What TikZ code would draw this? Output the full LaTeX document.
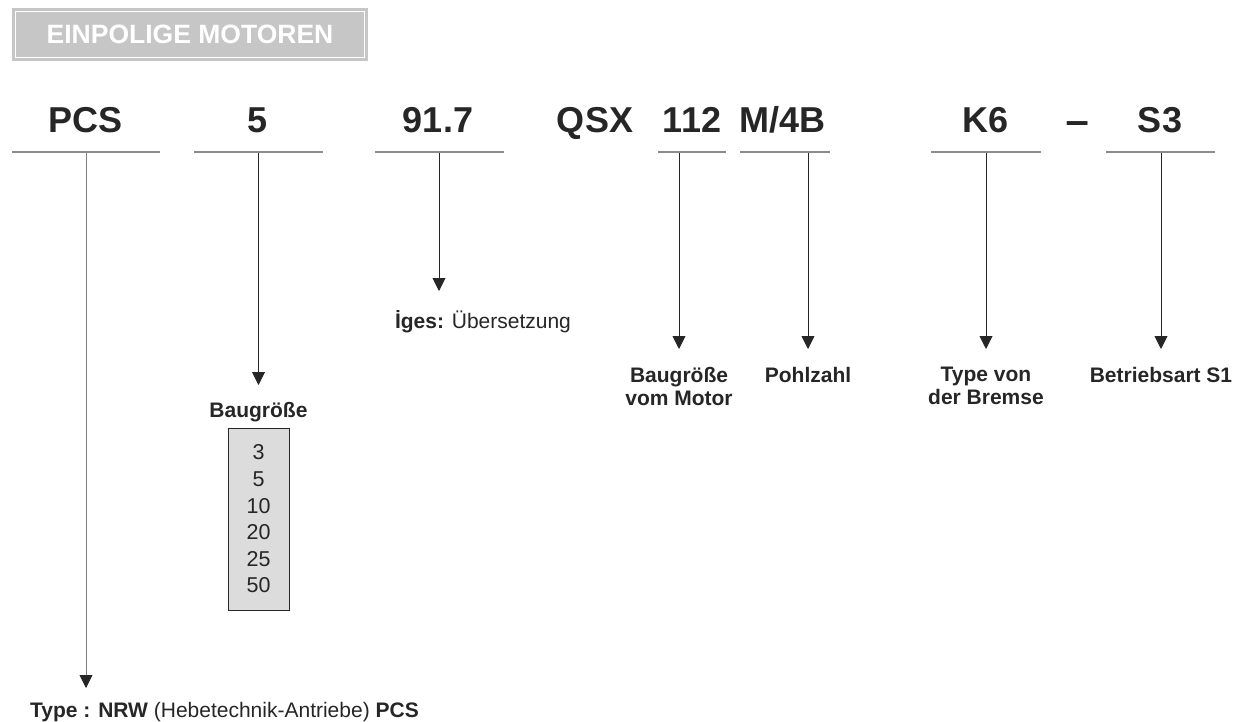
\documentclass[tikz,border=0pt]{standalone}
\usepackage{fontspec}
\setmainfont{Liberation Sans}
\usetikzlibrary{arrows.meta,calc}
\definecolor{tkText}{RGB}{38,38,38}
\definecolor{tkTitle}{RGB}{198,198,198}
\definecolor{tkRule}{RGB}{140,140,140}
\definecolor{tkBox}{RGB}{220,220,220}
\definecolor{tkStem}{RGB}{125,125,125}

\begin{document}
\begin{tikzpicture}[
  x=1pt, y=-1pt,
  code/.style={font=\fontsize{36}{40}\selectfont\bfseries, text=tkText, inner sep=0pt, anchor=base},
  lbl/.style={font=\fontsize{21}{23}\selectfont\bfseries, text=tkText, inner sep=0pt, align=center, anchor=north},
  rule/.style={draw=tkRule, line width=2pt},
  arr/.style={-{Triangle[length=13pt, width=13pt]}, draw=tkText, line width=0.9pt, shorten >=18pt},
]
\useasboundingbox (0,0) rectangle (1242,722);
% title
\node[fill=tkTitle, text=white, font=\fontsize{26.5}{29}\selectfont\bfseries, minimum width=356pt, minimum height=53pt, inner sep=0pt] (title) at (190,34.5) {EINPOLIGE MOTOREN};
\draw[white, line width=1pt] ($(title.south west)+(3.5,-3.5)$) rectangle ($(title.north east)+(-3.5,3.5)$);
% code
\node[code] (pcs) at (85.5,133) {PCS};
\node[code] (size) at (258,133) {5};
\node[code] (ratio) at (438,133) {91.7};
\node[code] (qsx) at (595,133) {QSX};
\node[code] (frame) at (692,133) {112};
\node[code] (pole) at (782.5,133) {M/4B};
\node[code] (brake) at (985.5,133) {K6};
\node[code, xscale=1.15] (dash) at (1077.5,136) {−};
\node[code] (duty) at (1160,133) {S3};
% underlines
\draw[rule] (12,152) -- (160,152);
\draw[rule] (194,152) -- (323,152);
\draw[rule] (375,152) -- (504,152);
\draw[rule] (658,152) -- (726,152);
\draw[rule] (740,152) -- (830,152);
\draw[rule] (931,152) -- (1041,152);
\draw[rule] (1106,152) -- (1215,152);
\coordinate (pcsS) at (86,153);
\coordinate (sizeS) at (258.5,153);
\coordinate (ratioS) at (439,153);
\coordinate (frameS) at (679,153);
\coordinate (poleS) at (808,153);
\coordinate (brakeS) at (986,153);
\coordinate (dutyS) at (1161,153);
% labels
\node[lbl, anchor=north west] (typ) at (30,702) {Type : NRW \mdseries(Hebetechnik-Antriebe) \bfseries PCS};
\node[lbl] (baug) at (258.5,402) {Baugröße};
\node[draw=tkText, line width=0.8pt, fill=tkBox, minimum width=61pt, minimum height=182pt, inner sep=0pt, align=center, text=tkText, font=\fontsize{21.5}{26.6}\selectfont] (sizes) at (258.5,519) {3\\5\\10\\20\\25\\50};
\node[lbl] (iges) at (483,310) {İges: \mdseries Übersetzung};
\node[lbl] (mot) at (679,367) {Baugröße\\vom Motor};
\node[lbl] (pol) at (808,367) {Pohlzahl};
\node[lbl] (brm) at (986,367) {Type von\\der Bremse};
\node[lbl] (btr) at (1161,367) {Betriebsart S1};
% arrows
\draw[arr, draw=tkStem, shorten >=14pt, -{Triangle[length=13pt, width=13pt, color=tkText]}] (pcsS) -- (pcsS |- typ.north);
\draw[arr, shorten >=17pt] (sizeS) -- (baug);
\draw[arr, shorten >=19pt] (ratioS) -- (ratioS |- iges.north);
\draw[arr] (frameS) -- (mot);
\draw[arr] (poleS) -- (pol);
\draw[arr] (brakeS) -- (brm);
\draw[arr] (dutyS) -- (btr);
\end{tikzpicture}
\end{document}
